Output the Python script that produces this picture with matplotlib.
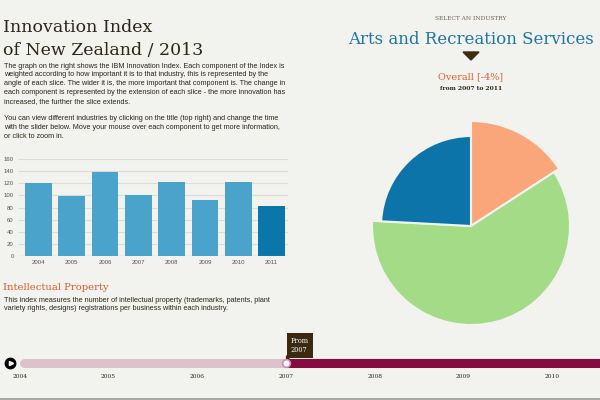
import numpy as np
import matplotlib.pyplot as plt

# bar chart: Intellectual Property index per year
years = [2004, 2005, 2006, 2007, 2008, 2009, 2010, 2011]
ip_index = [121, 99, 139, 100, 122, 93, 122, 83]

# pie: angle = weight of component (deg), radius = extension (change)
slice_weights = [57, 216, 87]
slice_extent = [105, 99, 90]
slice_colors = ['#FBA67A', '#A3DB87', '#0C74A8']

# time slider
slider_years = [2004, 2005, 2006, 2007, 2008, 2009, 2010]
start_year = 2007

title_lines = ['Innovation Index', 'of New Zealand / 2013']
intro_lines = [
    'The graph on the right shows the IBM Innovation Index. Each component of the Index is',
    'weighted according to how important it is to that industry, this is represented by the',
    'angle of each slice. The wider it is, the more important that component is. The change in',
    'each component is represented by the extension of each slice - the more innovation has',
    'increased, the further the slice extends.',
]
howto_lines = [
    'You can view different industries by clicking on the title (top right) and change the time',
    'with the slider below. Move your mouse over each component to get more information,',
    'or click to zoom in.',
]
ip_lines = [
    'This index measures the number of intellectual property (trademarks, patents, plant',
    'variety rights, designs) registrations per business within each industry.',
]

BG = '#F2F2EE'
DARK = '#2B2615'
SLAB = 'DejaVu Serif'
SANS = 'Liberation Sans'

fig = plt.figure(figsize=(6, 4), dpi=100, facecolor=BG)

# page overlay in pixel coordinates for the text blocks
page = fig.add_axes([0, 0, 1, 1])
page.set_xlim(0, 600)
page.set_ylim(400, 0)
page.axis('off')

page.text(3, 32, title_lines[0], family=SLAB, fontsize=12.5, color=DARK, va='baseline')
page.text(3, 55, title_lines[1], family=SLAB, fontsize=12.5, color=DARK, va='baseline')
for i, line in enumerate(intro_lines):
    page.text(4, 66 + i * 8.8, line, family=SANS, fontsize=5.2, color=DARK, va='center')
for i, line in enumerate(howto_lines):
    page.text(4, 118.5 + i * 8.8, line, family=SANS, fontsize=5.2, color=DARK, va='center')

page.text(3, 288, 'Intellectual Property', family=SLAB, fontsize=7.2, color='#E0582C', va='center')
for i, line in enumerate(ip_lines):
    page.text(4, 300 + i * 9, line, family=SANS, fontsize=5.2, color=DARK, va='center')

page.text(471, 19, 'SELECT AN INDUSTRY', family=SLAB, fontsize=4.2, color='#6E6450',
          ha='center', va='center')
page.text(471, 40, 'Arts and Recreation Services', family=SLAB, fontsize=12, color='#1F76A6',
          ha='center', va='center')
page.fill([463, 479, 471], [52, 52, 60], color='#3D2E12')
page.text(471, 77, 'Overall [-4%]', family=SLAB, fontsize=7, color='#E0602F',
          ha='center', va='center')
page.text(471, 89, 'from 2007 to 2011', family=SLAB, fontsize=4.3, color=DARK,
          fontweight='bold', ha='center', va='center')
page.axhline(399, color='#9A9A96', lw=1.2)

# bar chart
ax = fig.add_axes([18 / 600, 1 - 256 / 400, 270 / 600, 97 / 400])
ax.set_facecolor('none')
x = np.arange(len(years))
bar_colors = ['#4AA3CB'] * (len(years) - 1) + ['#0B76A9']
ax.bar(x, ip_index, width=0.8, color=bar_colors, zorder=3)
ax.set_xlim(-0.61, len(years) - 0.51)
ax.set_ylim(0, 160)
ax.set_yticks(range(0, 161, 20))
ax.set_xticks(x)
ax.set_xticklabels([str(y) for y in years])
ax.grid(axis='y', color='#DCDCD4', lw=0.8, zorder=0)
ax.axhline(0, color='#A8A8A0', lw=0.8, zorder=4)
for s in ax.spines.values():
    s.set_visible(False)
ax.tick_params(length=0, labelsize=4.3, colors='#55554F', pad=3)
for lab in ax.get_xticklabels() + ax.get_yticklabels():
    lab.set_family(SANS)

# rose / pie chart
R = 112
pax = fig.add_axes([(471 - R) / 600, 1 - (226 + R) / 400, 2 * R / 600, 2 * R / 400],
                   projection='polar')
pax.set_theta_zero_location('N')
pax.set_theta_direction(-1)
starts = np.concatenate([[0], np.cumsum(slice_weights)[:-1]])
pax.bar(np.radians(starts), slice_extent, width=np.radians(slice_weights), align='edge',
        color=slice_colors, edgecolor=BG, linewidth=1.5)
pax.set_ylim(0, R)
pax.axis('off')

# time slider, x in years
left_px, pitch = 20, 88.7
sax = fig.add_axes([0, 0, 1, 1])
sax.set_xlim(slider_years[0] - left_px / pitch, slider_years[0] + (600 - left_px) / pitch)
sax.set_ylim(400, 0)
sax.axis('off')
ypos = 363
first = slider_years[0] - 1 / pitch
sax.plot([first + 4.5 / pitch, start_year], [ypos, ypos], color='#DCC3CB', lw=6.5,
         solid_capstyle='round')
sax.plot([start_year, sax.get_xlim()[1]], [ypos, ypos], color='#870A40', lw=6.5,
         solid_capstyle='butt')
sax.plot(slider_years[0] - 10 / pitch, ypos, 'o', ms=7.5, color='black')
sax.plot(slider_years[0] - 9.4 / pitch, ypos, '>', ms=3, color='white')
sax.plot(start_year, ypos, 'o', ms=5.5, mfc='white', mec='#D98FB0', mew=1.2)
sax.text(start_year + 4.5 / pitch, 345.5, 'From\n2007', family=SLAB, fontsize=4.8,
         color='white', ha='left', va='center', linespacing=1.15,
         bbox=dict(boxstyle='square,pad=0.6', fc='#3B2A0F', ec='none'))
tip_x = start_year + np.array([0.5, 5.5, 0.5]) / pitch
sax.fill(tip_x, [356, 356, 360], color='#3B2A0F')
for yr in slider_years:
    sax.text(yr, 377, str(yr), family=SLAB, fontsize=4.3, color=DARK, ha='center', va='center')

fig.savefig('out.png', dpi=100, facecolor=BG)
